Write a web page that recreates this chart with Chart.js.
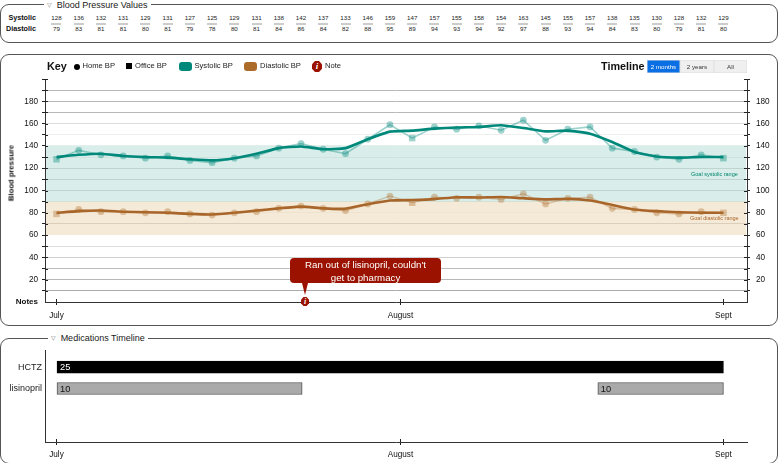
<!DOCTYPE html>
<html>
<head>
<meta charset="utf-8">
<script src="https://cdn.jsdelivr.net/npm/chart.js@4/dist/chart.umd.min.js"></script>
<style>
html, body { margin: 0; padding: 0; background: #fff; overflow: hidden; }
body { width: 778px; height: 463px; position: relative; font-family: "Liberation Sans", Arial, sans-serif; color: #111; }
.panel { position: absolute; left: 0; width: 776px; border: 1px solid #555; border-radius: 9px; box-sizing: content-box; }
.title { position: absolute; background: #fff; font-size: 9px; line-height: 11px; height: 11px; white-space: nowrap; color: #222; padding: 0 3px; }
.title span { font-family: "DejaVu Sans"; font-size: 6px; color: #777; margin-right: 5px; vertical-align: 1px; }
.abs { position: absolute; white-space: nowrap; }
canvas { position: absolute; left: 0; }
.cell { position: absolute; width: 20px; margin-left: -10px; text-align: center; font-size: 6.2px; line-height: 8px; color: #222; }
.rule { position: absolute; width: 10px; margin-left: -5px; height: 2px; top: 23px; background: #ccc; }
.rowhead { position: absolute; font-size: 7.2px; font-weight: bold; line-height: 8px; text-align: right; width: 36px; left: 0; }
.key { font-size: 7.6px; line-height: 10px; top: 61px; color: #222; }
.bold { font-size: 10.8px; font-weight: bold; line-height: 12px; top: 60px; }
.swatch { position: absolute; top: 62px; width: 13px; height: 9px; border-radius: 3px; }
.btn { position: absolute; top: 60px; height: 13px; line-height: 13px; text-align: center; font-size: 6.2px; background: #efefef; color: #333; box-shadow: inset 0 0 0 0.5px #ddd; }
.noteicon { position: absolute; width: 10px; height: 11px; background: #9b1300; color: #fff; text-align: center; font: italic bold 9px/11px "Liberation Serif", serif; clip-path: polygon(30% 0, 70% 0, 100% 30%, 100% 70%, 70% 100%, 30% 100%, 0 70%, 0 30%); }
#callout { position: absolute; top: 258px; width: 151px; height: 25px; background: #9b1300; border-radius: 4px; color: #fff; font-size: 9.7px; line-height: 12.5px; text-align: center; }
#pointer { position: absolute; top: 283px; width: 0; height: 0; border-left: 3px solid transparent; border-right: 3px solid transparent; border-top: 12px solid #9b1300; }
</style>
</head>
<body>
<div class="panel" style="top:4px;height:37px"></div>
<div class="title" style="top:-1px;left:44px"><span>▽</span>Blood Pressure Values</div>
<div id="table"></div>

<div class="panel" style="top:54px;height:270px"></div>
<canvas id="bpChart" width="778" height="271" style="top:54px"></canvas>
<div class="abs bold" style="left:47px">Key</div>
<div class="abs" style="left:74px;top:63.5px;width:6px;height:6px;border-radius:50%;background:#000"></div>
<div class="abs key" style="left:82.5px">Home BP</div>
<div class="abs" style="left:126px;top:63px;width:6px;height:6px;background:#000"></div>
<div class="abs key" style="left:135px">Office BP</div>
<div class="swatch" style="left:179px;background:#00897b"></div>
<div class="abs key" style="left:194.5px">Systolic BP</div>
<div class="swatch" style="left:244px;background:#ad6b2a"></div>
<div class="abs key" style="left:260px">Diastolic BP</div>
<div class="noteicon" style="left:312px;top:61px">i</div>
<div class="abs key" style="left:325px">Note</div>
<div class="abs bold" style="left:601px">Timeline</div>
<div class="btn" style="left:647px;width:33px;background:#0a6fe3;color:#fff">2 months</div>
<div class="btn" style="left:680px;width:34px">2 years</div>
<div class="btn" style="left:714px;width:33px">All</div>
<div class="abs" style="left:11px;top:173px;font-size:7.7px;font-weight:bold;transform:translate(-50%,-50%) rotate(-90deg)">Blood pressure</div>
<div class="abs" style="left:691px;top:170px;font-size:5.5px;line-height:8px;color:#00846f">Goal systolic range</div>
<div class="abs" style="left:690px;top:214px;font-size:5.5px;line-height:8px;color:#a8652a">Goal diastolic range</div>
<div id="notes"></div>

<div class="panel" style="top:338px;height:124px"></div>
<div class="title" style="top:332px;left:48px"><span>▽</span>Medications Timeline</div>
<canvas id="medChart" width="778" height="125" style="top:338px"></canvas>

<script>
const days = [0, 1, 2, 3, 4, 5, 6, 7, 8, 9, 10, 11, 12, 13, 14, 15, 16, 17, 18, 19, 20, 21, 22, 23, 24, 25, 26, 27, 28, 29, 30];
const systolic = [128, 136, 132, 131, 129, 131, 127, 125, 129, 131, 138, 142, 137, 133, 146, 159, 147, 157, 155, 158, 154, 163, 145, 155, 157, 138, 135, 130, 128, 132, 129];
const diastolic = [79, 83, 81, 81, 80, 81, 79, 78, 80, 81, 84, 86, 84, 82, 88, 95, 89, 94, 93, 94, 92, 97, 88, 93, 94, 84, 83, 80, 79, 81, 80];
const systolicTrend = [130, 132, 133, 131, 130, 129.5, 128, 127, 129, 133, 138, 139.5, 137, 138, 146, 152.8, 153.7, 155.5, 156.5, 157, 158.5, 156, 153, 153.7, 151, 143.5, 134.5, 130.5, 129.5, 130, 130];
const diastolicTrend = [80, 81.5, 82, 81, 80.5, 80, 79, 78.5, 80, 82, 84, 85.5, 84, 83.7, 87.7, 91, 91.5, 92.3, 94, 93.7, 94.2, 93, 92, 92.5, 91, 87, 83, 81.5, 80.5, 80, 80];
const officeDays = [0, 16, 30];
const monthLabels = ['July', 'August', 'Sept'];
const monthDays = [0, 15.47, 30];
const systolicGoal = [90, 140];
const diastolicGoal = [60, 90];
const noteDays = [11.18];
const noteTexts = ["Ran out of lisinopril, couldn't get to pharmacy"];
const medNames = ['HCTZ', 'lisinopril'];
const hctzSpans = [[0, 30]];
const hctzDoses = ['25'];
const lisinoprilSpans = [[0, 11.05], [24.35, 30]];
const lisinoprilDoses = ['10', '10'];

const gridColors = {190: '#b8b8b8', 180: '#b8b8b8', 170: '#b8b8b8', 160: '#dcdcdc', 150: '#efefef', 140: '#e4efec', 130: '#cfe2dd', 120: '#bfd4cf', 110: '#bfd4cf', 100: '#bfd4cf', 90: '#d5e0d4', 80: '#eee3cf', 70: '#d9cfbc', 50: '#dedede', 40: '#cfcfcf', 30: '#bdbdbd', 20: '#b8b8b8', 10: '#ababab'};

const points = function(values) {
    return values.map(function(v, i) { return {x: days[i], y: v}; });
};
const pointShape = function(ctx) {
    return officeDays.includes(ctx.dataIndex) ? 'rect' : 'circle';
};
const pointSize = function(ctx) {
    return officeDays.includes(ctx.dataIndex) ? 4.6 : 3.4;
};
const monthAxis = function(height, padding) {
    return {
        type: 'linear',
        position: 'bottom',
        offset: false,
        min: -0.517,
        max: 31.06,
        afterBuildTicks: function(axis) { axis.ticks = monthDays.map(function(d) { return {value: d}; }); },
        afterFit: function(axis) { axis.height = height; },
        ticks: {
            autoSkip: false, maxRotation: 0, padding: padding, color: '#111',
            font: {family: 'Liberation Sans', size: 8.2},
            callback: function(v) { return monthLabels[monthDays.indexOf(v)]; }
        },
        grid: {drawOnChartArea: false, drawTicks: true, tickLength: 3, tickColor: '#222'},
        border: {color: '#333', width: 1}
    };
};
const bpAxis = function(position, width, showNotes, padding) {
    return {
        type: 'linear',
        position: position,
        min: 0,
        max: 200,
        afterFit: function(axis) { axis.width = width; },
        ticks: {
            stepSize: 10, autoSkip: false, padding: padding, color: '#111',
            font: function(ctx) {
                return ctx.tick && ctx.tick.value === 0 ? {family: 'Liberation Sans', size: 8, weight: 'bold'} : {family: 'Liberation Sans', size: 8.2};
            },
            callback: function(v) {
                if (v === 0) return showNotes ? 'Notes' : '';
                return v % 20 === 0 && v !== 200 ? String(v) : '';
            }
        },
        grid: {
            drawOnChartArea: showNotes,
            tickLength: 3,
            color: function(ctx) { return gridColors[ctx.tick.value] || 'rgba(0,0,0,0)'; },
            tickColor: function(ctx) { return ctx.tick.value === 0 ? 'rgba(0,0,0,0)' : '#222'; }
        },
        border: {color: '#333', width: 1}
    };
};

const goalBands = {
    id: 'goalBands',
    beforeDraw: function(chart) {
        const y = chart.scales.y;
        const area = chart.chartArea;
        const c = chart.ctx;
        const band = function(goal, color) {
            const top = y.getPixelForValue(goal[1]);
            c.fillStyle = color;
            c.fillRect(area.left, top, area.right - area.left - 1, y.getPixelForValue(goal[0]) - top);
        };
        band(systolicGoal, '#d9eeea');
        band(diastolicGoal, '#f5ead8');
    }
};
const innerTicks = {
    id: 'innerTicks',
    afterDraw: function(chart) {
        const c = chart.ctx;
        const y = chart.scales.y;
        const x = chart.scales.x;
        const area = chart.chartArea;
        c.save();
        c.strokeStyle = '#222';
        c.lineWidth = 1;
        c.beginPath();
        y.ticks.forEach(function(t) {
            if (t.value === 0) return;
            const py = Math.round(y.getPixelForValue(t.value)) + 0.5;
            c.moveTo(area.left, py); c.lineTo(area.left + 3, py);
            c.moveTo(area.right - 3, py); c.lineTo(area.right, py);
        });
        x.ticks.forEach(function(t) {
            const px = Math.round(x.getPixelForValue(t.value)) + 0.5;
            c.moveTo(px, area.bottom - 3); c.lineTo(px, area.bottom);
        });
        c.stroke();
        c.restore();
    }
};

const bpChart = new Chart(document.getElementById('bpChart'), {
    type: 'line',
    data: {
        datasets: [
            {data: points(systolic), borderColor: 'rgba(0,137,123,0.38)', backgroundColor: 'rgba(0,137,123,0.38)', borderWidth: 1.6, pointStyle: pointShape, pointRadius: pointSize, pointBorderWidth: 0},
            {data: points(diastolic), borderColor: 'rgba(173,107,42,0.32)', backgroundColor: 'rgba(173,107,42,0.36)', borderWidth: 1.6, pointStyle: pointShape, pointRadius: pointSize, pointBorderWidth: 0},
            {data: points(systolicTrend), borderColor: '#00897b', borderWidth: 2.6, pointRadius: 0, tension: 0.15},
            {data: points(diastolicTrend), borderColor: '#a8652a', borderWidth: 2.6, pointRadius: 0, tension: 0.15}
        ]
    },
    options: {
        responsive: false,
        animation: false,
        events: [],
        layout: {padding: {top: 25, left: 0, right: 0, bottom: 0}},
        scales: {x: monthAxis(23, 6), y: bpAxis('left', 45, true, 4), y2: bpAxis('right', 31, false, 6)},
        plugins: {legend: {display: false}, tooltip: {enabled: false}}
    },
    plugins: [goalBands, innerTicks]
});

const doseLabels = {
    id: 'doseLabels',
    afterDatasetsDraw: function(chart) {
        const c = chart.ctx;
        c.save();
        c.font = '9.3px "Liberation Sans"';
        c.textBaseline = 'middle';
        chart.data.datasets.forEach(function(ds, i) {
            const bar = chart.getDatasetMeta(i).data[0];
            c.fillStyle = ds.doseColor;
            c.fillText(ds.dose, bar.base + 3, bar.y + 0.5);
        });
        c.restore();
    }
};
const medDataset = function(span, row, dose, fill, border, doseColor) {
    return {data: [{x: span, y: row}], dose: dose, doseColor: doseColor, backgroundColor: fill, borderColor: border, borderWidth: 1, borderSkipped: false, barThickness: 12, grouped: false};
};
const medChart = new Chart(document.getElementById('medChart'), {
    type: 'bar',
    data: {
        datasets: [
            medDataset(hctzSpans[0], 0, hctzDoses[0], '#000', '#000', '#fff'),
            medDataset(lisinoprilSpans[0], 1, lisinoprilDoses[0], '#aaa', '#555', '#111'),
            medDataset(lisinoprilSpans[1], 1, lisinoprilDoses[1], '#aaa', '#555', '#111')
        ]
    },
    options: {
        indexAxis: 'y',
        responsive: false,
        animation: false,
        events: [],
        layout: {padding: {top: 12, left: 0, right: 31, bottom: 0}},
        scales: {
            x: monthAxis(21, 5),
            y: {
                type: 'linear',
                offset: false,
                reverse: true,
                min: -0.8,
                max: 3.5,
                afterFit: function(axis) { axis.width = 45; },
                afterBuildTicks: function(axis) { axis.ticks = medNames.map(function(n, i) { return {value: i}; }); },
                ticks: {
                    padding: 3, color: '#222', font: {family: 'Liberation Sans', size: 9},
                    callback: function(v) { return medNames[v]; }
                },
                grid: {display: false, drawTicks: false},
                border: {color: '#333', width: 1}
            }
        },
        plugins: {legend: {display: false}, tooltip: {enabled: false}}
    },
    plugins: [doseLabels, {
        id: 'medTicks',
        afterDraw: function(chart) {
            const c = chart.ctx;
            const x = chart.scales.x;
            c.save();
            c.strokeStyle = '#222';
            c.beginPath();
            x.ticks.forEach(function(t) {
                const px = Math.round(x.getPixelForValue(t.value)) + 0.5;
                c.moveTo(px, chart.chartArea.bottom - 3); c.lineTo(px, chart.chartArea.bottom);
            });
            c.stroke();
            c.restore();
        }
    }]
});

const xScale = bpChart.scales.x;
const table = document.getElementById('table');
let tableHtml = '<div class="rowhead" style="top:14px">Systolic</div><div class="rowhead" style="top:25px">Diastolic</div>';
days.forEach(function(d, i) {
    const px = xScale.getPixelForValue(d);
    tableHtml += '<div class="cell" style="left:' + px + 'px;top:14px">' + systolic[i] + '</div>';
    tableHtml += '<div class="rule" style="left:' + px + 'px"></div>';
    tableHtml += '<div class="cell" style="left:' + px + 'px;top:25px">' + diastolic[i] + '</div>';
});
table.innerHTML = tableHtml;

let notesHtml = '';
noteDays.forEach(function(d, i) {
    const px = xScale.getPixelForValue(d);
    notesHtml += '<div id="callout" style="left:' + (px - 15) + 'px;padding:1px 12px 0;box-sizing:border-box">' + noteTexts[i] + '</div>';
    notesHtml += '<div id="pointer" style="left:' + (px - 3) + 'px"></div>';
    notesHtml += '<div class="noteicon" style="left:' + (px - 4) + 'px;top:297px;width:8px;height:9px;font-size:8px;line-height:9px">i</div>';
});
document.getElementById('notes').innerHTML = notesHtml;
</script>
</body>
</html>
